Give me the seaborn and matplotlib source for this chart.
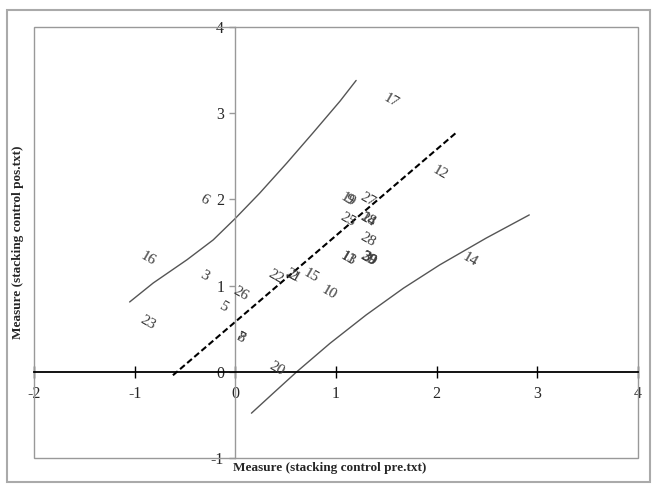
import seaborn as sns
import matplotlib.pyplot as plt
from matplotlib.patches import Rectangle

# item measures: (pre, pos, label)
pre = [-0.87, -0.87, -0.31, -0.31, -0.12, 0.05, 0.05, 0.05, 0.41, 0.40, 0.57, 0.57,
       0.75, 0.93, 1.12, 1.12, 1.12, 1.12, 1.12, 1.32, 1.32, 1.32, 1.32, 1.32, 1.32,
       1.32, 1.55, 2.03, 2.33]
pos = [1.31, 0.57, 2.00, 1.11, 0.75, 0.91, 0.39, 0.39, 0.04, 1.10, 1.11, 1.11,
       1.11, 0.92, 2.00, 2.00, 1.76, 1.31, 1.31, 2.00, 1.76, 1.76, 1.53, 1.31, 1.31,
       1.31, 3.14, 2.31, 1.30]
labels = ["16", "23", "6", "3", "5", "26", "8", "7", "20", "22", "21", "2",
          "15", "10", "19", "9", "25", "11", "13", "27", "24", "18", "28", "30", "29",
          "39", "17", "12", "14"]

# identity line and control curves
ident_x = [-0.62, 2.20]
ident_y = [-0.04, 2.78]
upper_x = [-1.05, -0.816, -0.48, -0.22, 0.0, 0.24, 0.51, 0.77, 1.04, 1.20]
upper_y = [0.81, 1.03, 1.30, 1.53, 1.78, 2.07, 2.42, 2.77, 3.14, 3.38]
lower_x = [0.16, 0.375, 0.61, 0.94, 1.30, 1.67, 2.03, 2.49, 2.92]
lower_y = [-0.48, -0.25, 0.0, 0.33, 0.66, 0.97, 1.24, 1.55, 1.82]

sns.set_theme(style="white")
plt.rcParams['font.family'] = ['Liberation Serif', 'DejaVu Serif']
plt.rcParams['axes.unicode_minus'] = False

fig = plt.figure(figsize=(6.56, 4.88), dpi=100)
ax = fig.add_axes([34/656, 1 - 458/488, 604/656, 431/488])

sns.lineplot(x=upper_x, y=upper_y, ax=ax, color="#555555", lw=1, sort=False, estimator=None)
sns.lineplot(x=lower_x, y=lower_y, ax=ax, color="#555555", lw=1, sort=False, estimator=None)
sns.lineplot(x=ident_x, y=ident_y, ax=ax, color="black", lw=1.5, sort=False,
             estimator=None, dashes=False, linestyle=(0, (3, 1.5)))

for xv, yv, lab in zip(pre, pos, labels):
    ax.text(xv, yv, lab, rotation=-30, ha="center", va="center",
            fontsize=11, color="#3a3a3a", rotation_mode="anchor")

ax.set_xlim(-2, 4)
ax.set_ylim(-1, 4)

# axes through the origin
ax.spines['bottom'].set_position(('data', 0))
ax.spines['left'].set_position(('data', 0))
ax.spines['bottom'].set_color("black")
ax.spines['bottom'].set_linewidth(1.3)
ax.spines['left'].set_color("#999999")
ax.spines['left'].set_linewidth(1)
ax.spines['top'].set_visible(False)
ax.spines['right'].set_visible(False)
ax.add_patch(Rectangle((0, 0), 1, 1, transform=ax.transAxes, fill=False,
                       edgecolor="#999999", lw=1, clip_on=False))

ax.set_xticks(range(-2, 5))
ax.set_yticks(range(-1, 5))
ax.tick_params(axis='x', direction='inout', length=9, width=1, color='black',
               labelsize=11.5, pad=6, bottom=True)
ax.tick_params(axis='y', direction='out', length=4, width=1, color='#999999',
               labelsize=11.5, pad=4, left=True)

fig.text(330/656, 1 - 468/488, "Measure (stacking control pre.txt)", ha="center",
         va="center", fontsize=9.5, fontweight="bold")
fig.text(18/656, 1 - 242/488, "Measure (stacking control pos.txt)", ha="center",
         va="center", rotation=90, fontsize=9.5, fontweight="bold")

fig.patches.append(Rectangle((7/656, 6/488), 643/656, 472/488, transform=fig.transFigure,
                             fill=False, edgecolor="#aaaaaa", lw=1.5))

fig.savefig("out.png", dpi=100)
